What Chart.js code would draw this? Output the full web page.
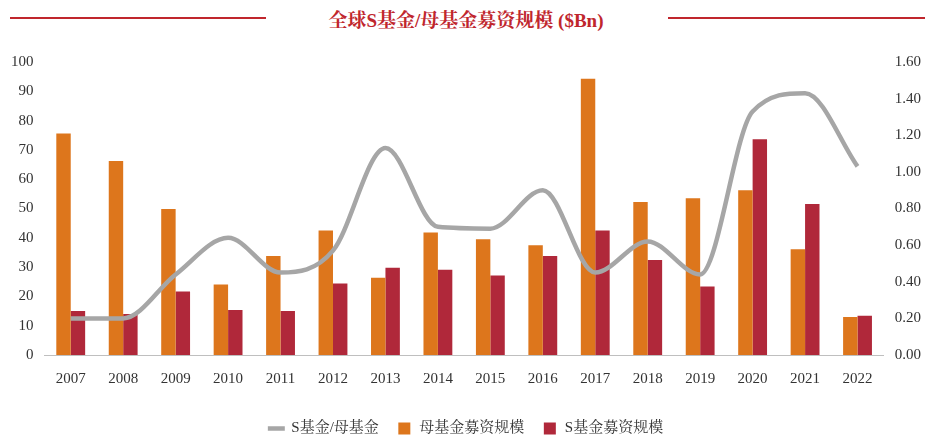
<!DOCTYPE html>
<html><head><meta charset="utf-8">
<script src="https://cdn.jsdelivr.net/npm/chart.js@4"></script>
<style>
body{margin:0;background:#fff;width:932px;height:446px;overflow:hidden;font-family:"Liberation Serif","Noto Serif CJK SC","Noto Sans CJK SC",serif}
#t{position:absolute;top:0;left:0;width:932px;height:36px}
#t .l{position:absolute;top:17px;height:2px;background:#C0262D}
#t span{position:absolute;top:5px;left:0;width:932px;text-align:center;color:#C0262D;font-weight:bold;font-size:19px}
#c{position:absolute;top:36px;left:0}
</style></head><body>
<div id="t"><div class="l" style="left:10px;width:256px"></div><div class="l" style="left:668px;width:257px"></div><span>全球S基金/母基金募资规模 ($Bn)</span></div>
<canvas id="c" width="932" height="410"></canvas>
<script>
const categories=['2007','2008','2009','2010','2011','2012','2013','2014','2015','2016','2017','2018','2019','2020','2021','2022'];
const fofFund=[75.6,66.2,49.8,24.1,33.8,42.5,26.4,41.8,39.5,37.5,94.3,52.2,53.5,56.2,36.1,13.0];
const sFund=[15,14,21.7,15.4,15,24.4,29.8,29.1,27.1,33.8,42.5,32.4,23.4,73.6,51.5,13.4];
const ratio=[0.20,0.20,0.44,0.64,0.45,0.57,1.13,0.70,0.69,0.90,0.45,0.62,0.44,1.33,1.43,1.03];
const F='"Liberation Serif","Noto Serif CJK SC","Noto Sans CJK SC",serif';
Chart.defaults.font.family=F;Chart.defaults.font.size=15;Chart.defaults.color='#333';
new Chart(document.getElementById('c'),{
data:{labels:categories,datasets:[
{type:'bar',label:'母基金募资规模',data:fofFund,backgroundColor:'#DD761C',yAxisID:'y',categoryPercentage:0.55,barPercentage:1,pointStyle:'rect',order:1},
{type:'bar',label:'S基金募资规模',data:sFund,backgroundColor:'#B0283A',yAxisID:'y',categoryPercentage:0.55,barPercentage:1,pointStyle:'rect',order:1},
{type:'line',label:'S基金/母基金',data:ratio,yAxisID:'y1',borderColor:'#A6A6A6',borderWidth:4.5,pointRadius:0,tension:0.45,cubicInterpolationMode:'monotone',pointStyle:'line',order:0}
]},
options:{responsive:false,animation:false,
layout:{padding:{left:8,right:8,top:26,bottom:0}},
plugins:{legend:{position:'bottom',labels:{usePointStyle:true,boxWidth:40,boxHeight:12,padding:18,font:{size:15,family:F}}},title:{display:false}},
scales:{
x:{grid:{display:false,drawTicks:false},border:{color:'#BFBFBF'},ticks:{padding:15}},
y:{position:'left',min:0,max:100,ticks:{stepSize:10},grid:{display:false},border:{display:false}},
y1:{position:'right',min:0,max:1.6,ticks:{stepSize:0.2,callback:v=>v.toFixed(2)},grid:{display:false},border:{display:false}}
}}});
</script></body></html>
